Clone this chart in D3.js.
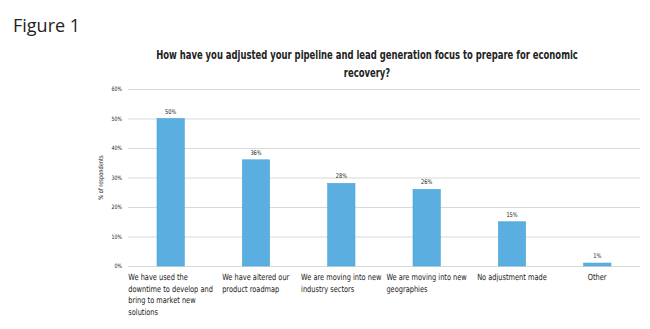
<!DOCTYPE html>
<html>
<head>
<meta charset="utf-8">
<title>Figure 1</title>
<script src="https://d3js.org/d3.v7.min.js"></script>
<style>
    body { margin: 0; background: #fff; }
    text { fill: #222; }
    .narrow { font-family: "DejaVu Sans", sans-serif; }
</style>
</head>
<body>
<script>
// data
const categories = [
    ["We have used the", "downtime to develop and", "bring to market new", "solutions"],
    ["We have altered our", "product roadmap"],
    ["We are moving into new", "industry sectors"],
    ["We are moving into new", "geographies"],
    ["No adjustment made"],
    ["Other"]
];
const values = [50, 36, 28, 26, 15, 1];
const yTicks = [0, 10, 20, 30, 40, 50, 60];

const width = 650, height = 329;
const margin = {top: 89, right: 10, bottom: 63, left: 128};
const squeeze = 0.78; // the original uses a condensed face

const svg = d3.select("body").append("svg")
    .attr("width", width)
    .attr("height", height);

svg.append("text")
    .attr("x", 13)
    .attr("y", 32)
    .style("font-family", "'Open Sans', 'Noto Sans', sans-serif")
    .style("font-size", "18px")
    .text("Figure 1");

// title, squeezed to the width it has in the original
const title = svg.append("text")
    .attr("class", "narrow")
    .attr("text-anchor", "middle")
    .style("font-size", "11.5px")
    .style("font-weight", "bold");
const t1 = title.append("tspan").attr("x", 0).attr("y", 0)
    .text("How have you adjusted your pipeline and lead generation focus to prepare for economic");
title.append("tspan").attr("x", 0).attr("y", 18)
    .text("recovery?");
const tk = 422 / t1.node().getComputedTextLength();
title.attr("transform", `translate(367,59) scale(${tk},1)`);

const x = d3.scaleBand()
    .domain(d3.range(categories.length))
    .range([margin.left, width - margin.right])
    .paddingInner(0.68)
    .paddingOuter(0.34);

const y = d3.scaleLinear()
    .domain([0, 60])
    .range([height - margin.bottom, margin.top]);

// gridlines + tick labels
const yAxis = svg.append("g")
    .attr("transform", `translate(${margin.left},0)`)
    .call(d3.axisLeft(y).tickValues(yTicks).tickFormat(d => d + "%")
        .tickSize(-(width - margin.right - margin.left)).tickPadding(6));
yAxis.select(".domain").remove();
yAxis.selectAll(".tick line").attr("stroke", "#d9d9d9").attr("stroke-width", 1);
yAxis.selectAll(".tick text")
    .attr("class", "narrow")
    .style("font-size", "6px")
    .attr("fill", "#333")
    .attr("transform", `translate(-6,0) scale(${squeeze},1)`)
    .attr("x", 0);

svg.append("text")
    .attr("class", "narrow")
    .attr("transform", `translate(103,${(y(0) + y(60)) / 2}) rotate(-90) scale(${squeeze},1)`)
    .attr("text-anchor", "middle")
    .style("font-size", "6.5px")
    .text("% of respondents");

// bars
svg.append("g").selectAll("rect")
    .data(values)
    .join("rect")
    .attr("x", (d, i) => x(i))
    .attr("y", d => y(d))
    .attr("width", x.bandwidth())
    .attr("height", d => y(0) - y(d))
    .attr("fill", "#5aaee0")
    .attr("stroke", "#4aa3da")
    .attr("stroke-width", 0.6);

// value labels
svg.append("g").selectAll("text")
    .data(values)
    .join("text")
    .attr("class", "narrow")
    .attr("transform", (d, i) => `translate(${x(i) + x.bandwidth() / 2},${y(d) - 5}) scale(${squeeze},1)`)
    .attr("text-anchor", "middle")
    .style("font-size", "6.5px")
    .text(d => d + "%");

// category labels: block centred on band, lines left aligned
const catG = svg.append("g").selectAll("text")
    .data(categories)
    .join("text")
    .attr("class", "narrow")
    .style("font-size", "8.5px");
catG.each(function(lines, i) {
    const t = d3.select(this);
    lines.forEach((ln, j) => {
        t.append("tspan").attr("x", 0).attr("y", j * 11.7).text(ln);
    });
    const w = this.getBBox().width * squeeze;
    t.attr("transform", `translate(${x(i) + x.bandwidth() / 2 - w / 2},${y(0) + 14}) scale(${squeeze},1)`);
});
</script>
</body>
</html>
